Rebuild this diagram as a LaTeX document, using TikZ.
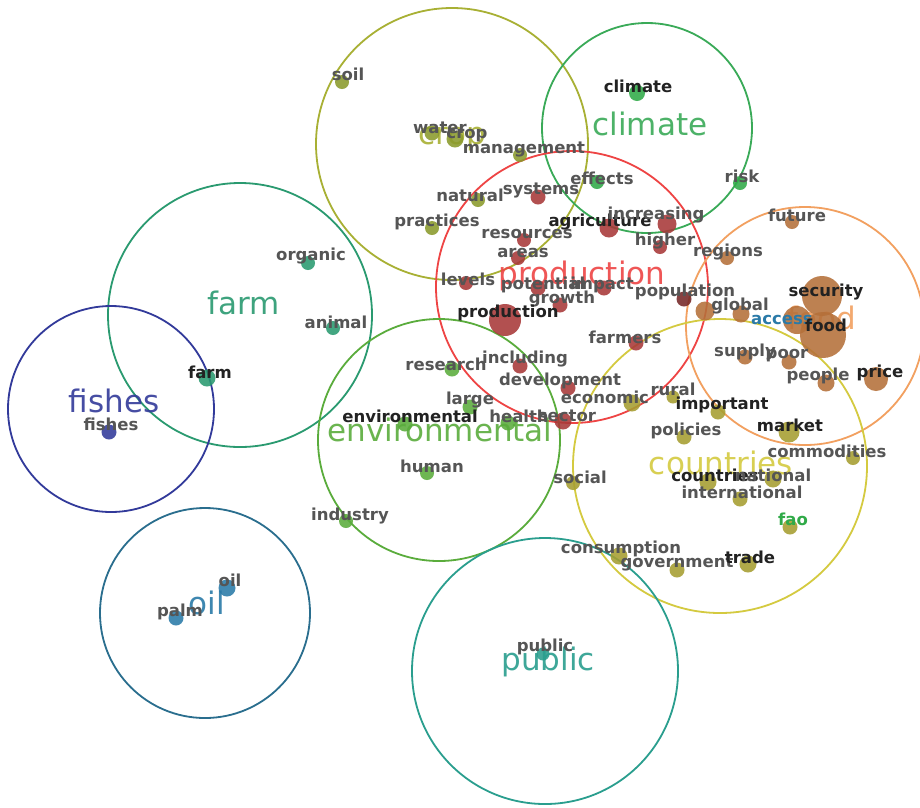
\documentclass[tikz,border=0pt]{standalone}
\usepackage{fontspec}
\setmainfont{DejaVu Sans}
\definecolor{cropc}{HTML}{A8B034}
\definecolor{cropd}{HTML}{8A9A2C}
\definecolor{climc}{HTML}{3AAA58}
\definecolor{climd}{HTML}{30AA48}
\definecolor{prodc}{HTML}{EE4444}
\definecolor{prodd}{HTML}{A83838}
\definecolor{foodc}{HTML}{F2A060}
\definecolor{foodd}{HTML}{B5703A}
\definecolor{farmc}{HTML}{2A9A70}
\definecolor{fishc}{HTML}{323A9A}
\definecolor{envc}{HTML}{5AAC3C}
\definecolor{countc}{HTML}{D4CA40}
\definecolor{countd}{HTML}{A69E30}
\definecolor{oilc}{HTML}{2A6E8E}
\definecolor{oild}{HTML}{2A7AA8}
\definecolor{pubc}{HTML}{2A9E8E}
\definecolor{txt}{HTML}{555555}
\definecolor{txtk}{HTML}{222222}
\newcommand\wdot[5]{\node[dotn,fill=#5,minimum size=#4pt] (d-#1) at (#2,#3) {};}
\newcommand\wlab[5]{\node[lab,text=#5] (l-#1) at (#2,#3) {#4};}
\newcommand\blab[5]{\node[biglab,text=#5] (b-#1) at (#2,#3) {#4};}
\tikzset{
  clus/.style={line width=1.8pt},
  dotn/.style={circle,inner sep=0pt,draw=none,opacity=.88},
  lab/.style={inner sep=0pt,font=\bfseries\fontsize{16.5}{17}\selectfont},
  biglab/.style={inner sep=0pt,font=\fontsize{31}{31}\selectfont,opacity=.9}
}
\begin{document}
\begin{tikzpicture}[x=1pt,y=-1pt]
\useasboundingbox[fill=white] (0,0) rectangle (920,807);
% cluster circles
\draw[clus,cropc] (452,144) circle (136);
\draw[clus,climc] (647,128) circle (105);
\draw[clus,prodc] (572,287) circle (136);
\draw[clus,foodc] (805,326) circle (119);
\draw[clus,farmc] (240,315) circle (132);
\draw[clus,fishc] (111,409) circle (103);
\draw[clus,envc] (439,440) circle (121);
\draw[clus,countc] (720,466) circle (147);
\draw[clus,oilc] (205,613) circle (105);
\draw[clus,pubc] (545,671) circle (133);
% cluster labels
\blab{crop}{452}{139}{crop}{cropc}
\blab{climate}{650}{124}{climate}{climc}
\blab{production}{582}{276}{production}{prodc}
\blab{food}{822}{318}{food}{foodc}
\blab{farm}{244}{303}{farm}{farmc}
\blab{fishes}{114}{401}{fishes}{fishc}
\blab{environmental}{440}{430}{environmental}{envc}
\blab{countries}{721}{463}{countries}{countc}
\blab{oil}{207}{603}{oil}{oild}
\blab{public}{548}{662}{public}{pubc}
% dots
\wdot{soil}{342}{82}{14}{cropd}
\wdot{water}{432}{133}{15}{cropd}
\wdot{crop}{455}{139}{17}{cropd}
\wdot{management}{520}{155}{14}{cropd}
\wdot{natural}{478}{200}{14}{cropd}
\wdot{practices}{432}{228}{14}{cropd}
\wdot{effects}{597}{182}{14}{climd}
\wdot{climate}{637}{93}{16}{climd}
\wdot{risk}{740}{183}{14}{climd}
\wdot{systems}{538}{197}{15}{prodd}
\wdot{agriculture}{609}{228}{19}{prodd}
\wdot{increasing}{667}{224}{19}{prodd}
\wdot{higher}{660}{247}{14}{prodd}
\wdot{resources}{524}{240}{14}{prodd}
\wdot{areas}{518}{258}{14}{prodd}
\wdot{levels}{466}{283}{14}{prodd}
\wdot{potential}{538}{288}{15}{prodd}
\wdot{impact}{604}{288}{15}{prodd}
\wdot{growth}{560}{305}{15}{prodd}
\wdot{production}{505}{320}{32}{prodd}
\wdot{population}{684}{299}{15}{prodd!70!black}
\wdot{farmers}{636}{343}{15}{prodd}
\wdot{including}{520}{366}{15}{prodd}
\wdot{development}{568}{388}{15}{prodd}
\wdot{sector}{563}{421}{17}{prodd}
\wdot{globala}{705}{311}{19}{foodd}
\wdot{global}{741}{314}{17}{foodd}
\wdot{future}{792}{222}{14}{foodd}
\wdot{regions}{727}{258}{14}{foodd}
\wdot{access}{797}{320}{28}{foodd}
\wdot{security}{822}{296}{40}{foodd}
\wdot{food}{823}{335}{46}{foodd}
\wdot{supply}{745}{357}{15}{foodd}
\wdot{poor}{789}{362}{15}{foodd}
\wdot{people}{826}{383}{17}{foodd}
\wdot{price}{876}{379}{24}{foodd}
\wdot{research}{452}{369}{15}{envc}
\wdot{large}{470}{407}{15}{envc}
\wdot{environmental}{405}{424}{15}{envc}
\wdot{health}{508}{423}{15}{envc}
\wdot{human}{427}{473}{14}{envc}
\wdot{industry}{346}{521}{14}{envc}
\wdot{economic}{632}{403}{17}{countd}
\wdot{rural}{673}{397}{13}{countd}
\wdot{important}{718}{412}{15}{countd}
\wdot{policies}{684}{437}{15}{countd}
\wdot{market}{789}{432}{21}{countd}
\wdot{commodities}{853}{458}{14}{countd}
\wdot{social}{573}{483}{14}{countd}
\wdot{countries}{708}{482}{17}{countd}
\wdot{national}{773}{479}{17}{countd}
\wdot{international}{740}{499}{15}{countd}
\wdot{fao}{790}{527}{15}{countd}
\wdot{consumption}{619}{556}{17}{countd}
\wdot{government}{677}{570}{15}{countd}
\wdot{trade}{748}{564}{17}{countd}
\wdot{organic}{308}{263}{14}{farmc}
\wdot{animal}{333}{328}{14}{farmc}
\wdot{farm}{207}{378}{17}{farmc}
\wdot{fishes}{109}{432}{15}{fishc}
\wdot{oil}{227}{588}{17}{oild}
\wdot{palm}{176}{618}{15}{oild}
\wdot{public}{543}{654}{13}{pubc}
% word labels
\wlab{soil}{348}{74}{soil}{txt}
\wlab{water}{440}{128}{water}{txt}
\wlab{crop}{467}{136}{crop}{txt}
\wlab{management}{524}{149}{management}{txt}
\wlab{natural}{470}{195}{natural}{txt}
\wlab{systems}{541}{190}{systems}{txt}
\wlab{practices}{437}{222}{practices}{txt}
\wlab{effects}{602}{178}{effects}{txt}
\wlab{climate}{638}{86}{climate}{txtk}
\wlab{risk}{742}{176}{risk}{txt}
\wlab{agriculture}{600}{222}{agriculture}{txtk}
\wlab{increasing}{656}{215}{increasing}{txt}
\wlab{higher}{665}{241}{higher}{txt}
\wlab{resources}{527}{234}{resources}{txt}
\wlab{areas}{523}{253}{areas}{txt}
\wlab{levels}{468}{279}{levels}{txt}
\wlab{potential}{543}{285}{potential}{txt}
\wlab{impact}{602}{285}{impact}{txt}
\wlab{growth}{562}{299}{growth}{txt}
\wlab{production}{508}{313}{production}{txtk}
\wlab{population}{685}{292}{population}{txt}
\wlab{farmers}{625}{337}{farmers}{txt}
\wlab{including}{525}{359}{including}{txt}
\wlab{development}{560}{381}{development}{txt}
\wlab{research}{446}{364}{research}{txt}
\wlab{large}{470}{400}{large}{txt}
\wlab{environmental}{410}{416}{environmental}{txtk}
\wlab{health}{519}{416}{health}{txt}
\wlab{sector}{567}{416}{sector}{txt}
\wlab{human}{432}{466}{human}{txt}
\wlab{industry}{350}{516}{industry}{txt}
\wlab{economic}{605}{397}{economic}{txt}
\wlab{rural}{673}{389}{rural}{txt}
\wlab{important}{722}{405}{important}{txtk}
\wlab{policies}{686}{431}{policies}{txt}
\wlab{market}{790}{425}{market}{txtk}
\wlab{commodities}{827}{451}{commodities}{txt}
\wlab{social}{580}{477}{social}{txt}
\wlab{countries}{715}{475}{countries}{txtk}
\wlab{national}{773}{475}{national}{txt}
\wlab{international}{742}{492}{international}{txt}
\wlab{fao}{793}{519}{fao}{climd}
\wlab{consumption}{621}{549}{consumption}{txt}
\wlab{government}{677}{563}{government}{txt}
\wlab{trade}{750}{557}{trade}{txtk}
\wlab{future}{797}{215}{future}{txt}
\wlab{regions}{728}{252}{regions}{txt}
\wlab{global}{740}{306}{global}{txt}
\wlab{access}{782}{320}{access}{oild}
\wlab{security}{826}{292}{security}{txtk}
\wlab{food}{826}{325}{food}{txtk}
\wlab{supply}{745}{352}{supply}{txt}
\wlab{poor}{787}{356}{poor}{txt}
\wlab{people}{818}{376}{people}{txt}
\wlab{price}{880}{373}{price}{txtk}
\wlab{organic}{311}{256}{organic}{txt}
\wlab{animal}{336}{322}{animal}{txt}
\wlab{farm}{210}{372}{farm}{txtk}
\wlab{fishes}{111}{424}{fishes}{txt}
\wlab{oil}{230}{580}{oil}{txt}
\wlab{palm}{180}{612}{palm}{txt}
\wlab{public}{545}{647}{public}{txt}
\end{tikzpicture}
\end{document}
